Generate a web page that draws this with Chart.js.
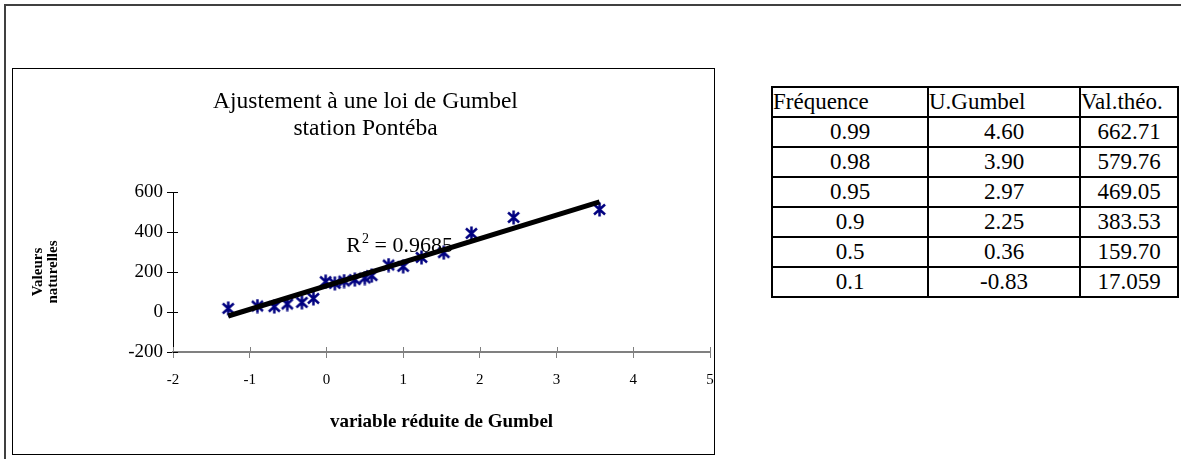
<!DOCTYPE html>
<html>
<head>
<meta charset="utf-8">
<script src="https://cdn.jsdelivr.net/npm/chart.js@4/dist/chart.umd.min.js"></script>
<style>
  body { margin: 0; background: #fff; width: 1181px; height: 459px; overflow: hidden; position: relative; font-family: "Liberation Serif", serif; }
  #frame { position: absolute; left: 4px; top: 4px; width: 1300px; height: 600px; border: 2px solid #404040; }
  #box { position: absolute; left: 12px; top: 68px; width: 701px; height: 385px; border: 1px solid #000; overflow: hidden; }
  #myChart { position: absolute; left: 0; top: 0; }
  table { position: absolute; left: 771px; top: 86px; border-collapse: collapse; font-size: 23px; }
  td { border: 2px solid #000; height: 28px; padding: 0; text-align: center; line-height: 28px; }
  th { border: 2px solid #000; height: 28px; padding: 0; font-weight: normal; text-align: left; line-height: 28px; white-space: nowrap; }
</style>
</head>
<body>
<div id="frame"></div>
<div id="box"><canvas id="myChart" width="705" height="385"></canvas></div>
<table id="content"></table>
<script>
// observed points (variable réduite, valeurs naturelles)
const uGumbel = [-1.28, -0.90, -0.68, -0.51, -0.32, -0.17, -0.01, 0.11, 0.23, 0.37, 0.50, 0.59, 0.81, 1.00, 1.24, 1.53, 1.89, 2.44, 3.56];
const valeurs = [18, 30, 27, 40, 48, 68, 152, 143, 155, 162, 170, 182, 235, 228, 273, 297, 393, 473, 513];

// linear trendline ends
const trendX = [-1.28, 3.56];
const trendY = [-23, 548];

const xTicks = [-2, -1, 0, 1, 2, 3, 4, 5];
const yTicks = [-200, 0, 200, 400, 600];

// table
const tabHead = ["Fréquence", "U.Gumbel", "Val.théo."];
const tabFreq = ["0.99", "0.98", "0.95", "0.9", "0.5", "0.1"];
const tabU = ["4.60", "3.90", "2.97", "2.25", "0.36", "-0.83"];
const tabVal = ["662.71", "579.76", "469.05", "383.53", "159.70", "17.059"];

const r2Value = "0.9685";

var table = document.getElementById("content");
var colW = [154, 150, 96];
var hr = document.createElement("tr");
tabHead.forEach(function (h, i) {
  var th = document.createElement("th");
  th.textContent = h;
  th.style.width = colW[i] + "px";
  hr.appendChild(th);
});
table.appendChild(hr);
for (var i = 0; i < tabFreq.length; i++) {
  var tr = document.createElement("tr");
  [tabFreq[i], tabU[i], tabVal[i]].forEach(function (v) {
    var td = document.createElement("td");
    td.textContent = v;
    tr.appendChild(td);
  });
  table.appendChild(tr);
}

// asterisk marker (X + vertical bar)
var mk = document.createElement("canvas");
mk.width = 15; mk.height = 15;
var m = mk.getContext("2d");
m.strokeStyle = "#000080";
m.lineWidth = 2.5;
m.beginPath();
m.moveTo(2, 2.5); m.lineTo(13, 12.5);
m.moveTo(13, 2.5); m.lineTo(2, 12.5);
m.moveTo(7.5, 0.5); m.lineTo(7.5, 14.5);
m.stroke();

const serif = "'Liberation Serif', 'Times New Roman', serif";

const extras = {
  id: "extras",
  afterDatasetsDraw(chart) {
    const c = chart.ctx, xs = chart.scales.x, ys = chart.scales.y;
    c.save();
    // inner half of the crossing tick marks
    c.lineWidth = 1;
    c.strokeStyle = "#808080";
    xTicks.forEach(function (t) {
      var px = Math.round(xs.getPixelForValue(t)) + 0.5;
      c.beginPath(); c.moveTo(px, ys.bottom); c.lineTo(px, ys.bottom - 5); c.stroke();
    });
    c.strokeStyle = "#000";
    yTicks.forEach(function (t) {
      var py = Math.round(ys.getPixelForValue(t)) + 0.5;
      c.beginPath(); c.moveTo(xs.left, py); c.lineTo(xs.left + 5, py); c.stroke();
    });
    // R² label
    var x0 = xs.getPixelForValue(0.26), y0 = ys.getPixelForValue(298);
    c.fillStyle = "#000";
    c.textBaseline = "alphabetic";
    c.font = "22px " + serif;
    c.fillText("R", x0, y0);
    var w = c.measureText("R").width;
    c.font = "14px " + serif;
    c.fillText("2", x0 + w + 1, y0 - 9);
    c.font = "22px " + serif;
    c.fillText(" = " + r2Value, x0 + w + 8, y0);
    c.restore();
  }
};

const ctx = document.getElementById("myChart").getContext("2d");
const myChart = new Chart(ctx, {
  type: "scatter",
  data: {
    datasets: [
      {
        label: "Valeurs",
        data: uGumbel.map(function (u, i) { return { x: u, y: valeurs[i] }; }),
        pointStyle: mk,
        pointRadius: 7,
        order: 3,
      },
      {
        label: "Tendance",
        type: "line",
        data: trendX.map(function (u, i) { return { x: u, y: trendY[i] }; }),
        borderColor: "#000080",
        borderWidth: 1.5,
        pointRadius: 0,
        order: 2,
      },
      {
        label: "Linéaire",
        type: "line",
        data: trendX.map(function (u, i) { return { x: u, y: trendY[i] + 3 }; }),
        borderColor: "#000",
        borderWidth: 5,
        pointRadius: 0,
        order: 1,
      },
    ],
  },
  options: {
    responsive: false,
    animation: false,
    layout: { padding: { right: 0, left: 0, top: 0, bottom: 0 } },
    plugins: {
      legend: { display: false },
      tooltip: { enabled: false },
      title: {
        display: true,
        text: ["Ajustement à une loi de Gumbel", "station Pontéba"],
        color: "#000",
        font: { family: serif, size: 23.5, weight: "normal", lineHeight: 1.15 },
        padding: { top: 19, bottom: 50 },
      },
    },
    scales: {
      x: {
        type: "linear",
        min: -2, max: 5,
        afterBuildTicks: function (s) { s.ticks = xTicks.map(function (v) { return { value: v }; }); },
        afterFit: function (s) { s.height = 102; s.paddingLeft = 0; s.paddingRight = 0; },
        ticks: { color: "#000", font: { family: serif, size: 15 }, padding: 13, maxRotation: 0 },
        grid: { drawOnChartArea: false, tickLength: 6, color: "#808080" },
        border: { color: "#808080", width: 2 },
        title: {
          display: true,
          text: "variable réduite de Gumbel",
          color: "#000",
          font: { family: serif, size: 19, weight: "bold" },
          padding: { top: 0, bottom: 21 },
        },
      },
      y: {
        min: -200, max: 600,
        afterBuildTicks: function (s) { s.ticks = yTicks.map(function (v) { return { value: v }; }); },
        afterFit: function (s) { s.width = 160; },
        ticks: { color: "#000", font: { family: serif, size: 19 }, padding: 4 },
        grid: { drawOnChartArea: false, tickLength: 6, color: "#000" },
        border: { color: "#000", width: 1 },
        title: {
          display: true,
          text: ["Valeurs", "naturelles"],
          color: "#000",
          font: { family: serif, size: 15, weight: "bold", lineHeight: 1.0 },
          padding: { top: 18, bottom: 0 },
        },
      },
    },
  },
  plugins: [extras],
});
</script>
</body>
</html>
